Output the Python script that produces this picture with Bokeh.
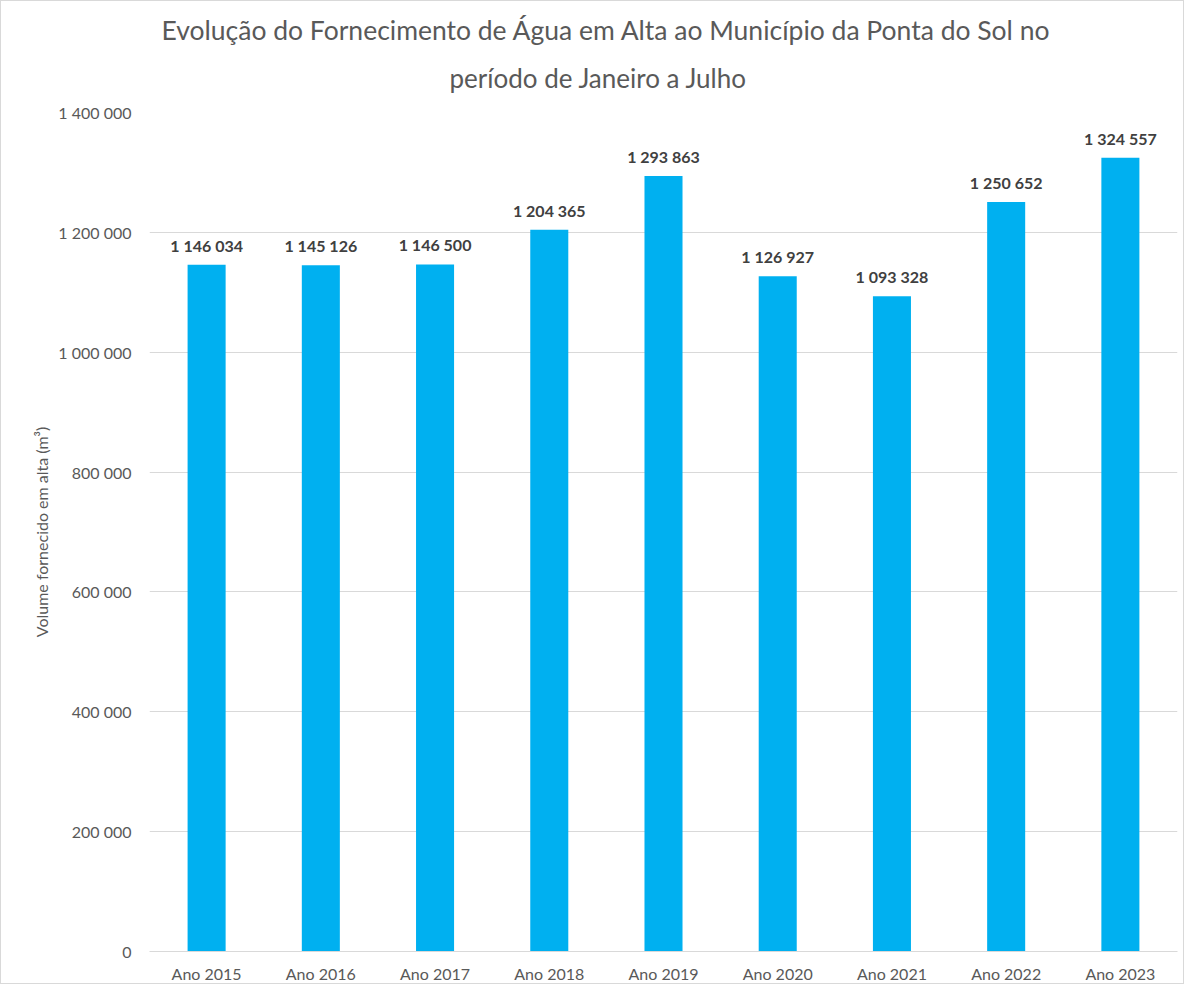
from bokeh.plotting import figure
from bokeh.models import ColumnDataSource, FactorRange, Range1d, LabelSet, Title, FixedTicker
from bokeh.embed import file_html
from bokeh.resources import INLINE
from bokeh.core.properties import value

categories = ["Ano 2015", "Ano 2016", "Ano 2017", "Ano 2018", "Ano 2019",
              "Ano 2020", "Ano 2021", "Ano 2022", "Ano 2023"]
volumes = [1146034, 1145126, 1146500, 1204365, 1293863,
           1126927, 1093328, 1250652, 1324557]
y_ticks = [0, 200000, 400000, 600000, 800000, 1000000, 1200000, 1400000]
title_lines = ["Evolução do Fornecimento de Água em Alta ao Município da Ponta do Sol no",
               "período de Janeiro a Julho"]
y_label = "Volume fornecido em alta (m³)"

FONT = "Lato"
GREY = "#595959"

def fmt(v):
    return f"{v:,}".replace(",", " ")

src = ColumnDataSource(dict(cat=categories, val=volumes, lab=[fmt(v) for v in volumes]))

p = figure(width=1184, height=984, x_range=FactorRange(factors=categories, range_padding=0),
           y_range=Range1d(0, 1400000), output_backend="svg", toolbar_location=None,
           min_border_left=148, min_border_right=8, min_border_top=111, min_border_bottom=32)
p.styles = {"border": "1px solid #D9D9D9"}
p.outline_line_color = None

p.vbar(x="cat", top="val", width=0.333, source=src, fill_color="#00B0F0", line_color=None)

labels = LabelSet(x="cat", y="val", text="lab", source=src, text_align="center",
                  text_baseline="bottom", y_offset=10, text_font=value(FONT),
                  text_font_size="16px", text_font_style="bold", text_color="#404040")
p.add_layout(labels)

p.xgrid.grid_line_color = None
p.ygrid.grid_line_color = "#D9D9D9"
p.ygrid.grid_line_width = 1

p.yaxis.ticker = FixedTicker(ticks=y_ticks)
p.yaxis.major_label_overrides = {t: fmt(t) for t in y_ticks}
p.yaxis.axis_line_color = None
p.yaxis.major_tick_line_color = None
p.yaxis.minor_tick_line_color = None
p.yaxis.major_tick_out = 0
p.yaxis.major_tick_in = 0
p.yaxis.minor_tick_out = 0
p.yaxis.major_label_text_font = FONT
p.yaxis.major_label_text_font_size = "16px"
p.yaxis.major_label_text_color = GREY
p.yaxis.major_label_standoff = 18
p.yaxis.axis_label = y_label
p.yaxis.axis_label_text_font = FONT
p.yaxis.axis_label_text_font_size = "16px"
p.yaxis.axis_label_text_font_style = "normal"
p.yaxis.axis_label_text_color = GREY
p.yaxis.axis_label_standoff = 4

p.xaxis.axis_line_color = "#D9D9D9"
p.xaxis.axis_line_width = 1
p.xaxis.major_tick_line_color = None
p.xaxis.minor_tick_line_color = None
p.xaxis.major_tick_out = 0
p.xaxis.major_tick_in = 0
p.xaxis.minor_tick_out = 0
p.xaxis.major_label_text_font = FONT
p.xaxis.major_label_text_font_size = "16px"
p.xaxis.major_label_text_color = GREY
p.xaxis.major_label_standoff = 12

# inner line first, outer line second
p.add_layout(Title(text=title_lines[1], align="left", offset=300, standoff=33,
                   vertical_align="top",
                   text_font=FONT, text_font_size="26px", text_font_style="normal",
                   text_line_height=1.0, text_color=GREY), "above")
p.add_layout(Title(text=title_lines[0], align="left", offset=12, standoff=0,
                   vertical_align="bottom",
                   text_font=FONT, text_font_size="26.5px", text_font_style="normal",
                   text_line_height=1.0, text_color=GREY), "above")

open("out.html", "w").write(file_html(p, INLINE))
